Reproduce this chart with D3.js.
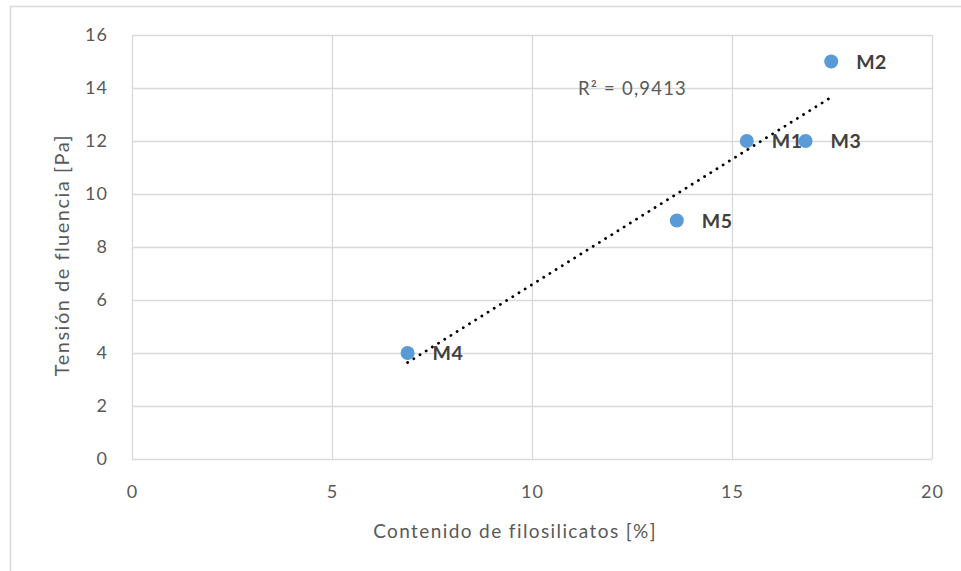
<!DOCTYPE html>
<html>
<head>
<meta charset="utf-8">
<script src="https://cdn.jsdelivr.net/npm/d3@7"></script>
<style>
  html, body { margin: 0; padding: 0; background: #fff; }
  svg { display: block; }
  text { font-family: Lato, "Open Sans", sans-serif; }
</style>
</head>
<body>
<svg id="chart" width="961" height="571"></svg>
<script>
// Muestras: contenido de filosilicatos [%] vs tensión de fluencia [Pa]
const sampleNames = ["M1", "M2", "M3", "M4", "M5"];
const filosilicatos = [15.37, 17.48, 16.84, 6.89, 13.62];
const tensionFluencia = [12, 15, 12, 4, 9];
const xTicks = [0, 5, 10, 15, 20];
const yTicks = [0, 2, 4, 6, 8, 10, 12, 14, 16];
const r2Label = "R² = 0,9413";

const svg = d3.select("#chart");
const W = 961, H = 571;
const plot = { left: 132, right: 932, top: 35, bottom: 459 };

// Outer chart frame
svg.append("rect")
  .attr("x", 10.5).attr("y", 6.5)
  .attr("width", W + 20).attr("height", H + 20)
  .attr("fill", "#fff").attr("stroke", "#d9d9d9").attr("stroke-width", 1.5);

const x = d3.scaleLinear().domain([0, 20]).range([plot.left, plot.right]);
const y = d3.scaleLinear().domain([0, 16]).range([plot.bottom, plot.top]);

// Gridlines
const grid = svg.append("g");
grid.selectAll("line.h").data(yTicks).join("line")
  .attr("x1", plot.left).attr("x2", plot.right)
  .attr("y1", d => Math.round(y(d)) + 0.5).attr("y2", d => Math.round(y(d)) + 0.5)
  .attr("stroke", "#d9d9d9").attr("stroke-width", 1.3);
grid.selectAll("line.v").data(xTicks).join("line")
  .attr("y1", plot.top).attr("y2", plot.bottom)
  .attr("x1", d => Math.round(x(d)) + 0.5).attr("x2", d => Math.round(x(d)) + 0.5)
  .attr("stroke", "#d9d9d9").attr("stroke-width", 1.3);

// Axes (labels only, Excel style)
const yAxis = svg.append("g")
  .attr("transform", `translate(${plot.left},0)`)
  .call(d3.axisLeft(y).tickValues(yTicks).tickSize(0).tickPadding(24).tickFormat(d3.format("d")));
const xAxis = svg.append("g")
  .attr("transform", `translate(0,${plot.bottom})`)
  .call(d3.axisBottom(x).tickValues(xTicks).tickSize(0).tickPadding(26).tickFormat(d3.format("d")));
[yAxis, xAxis].forEach(a => {
  a.select(".domain").remove();
  a.selectAll("text").attr("fill", "#595959").style("font-size", "18px")
    .style("letter-spacing", "1px")
    .style("font-family", "Lato, 'Open Sans', sans-serif");
});

// Axis titles
svg.append("text")
  .attr("x", (plot.left + plot.right) / 2 - 17).attr("y", 538)
  .attr("text-anchor", "middle").attr("fill", "#595959")
  .style("font-size", "19px").style("letter-spacing", "1.4px")
  .text("Contenido de filosilicatos [%]");
svg.append("text")
  .attr("transform", `translate(69,${(plot.top + plot.bottom) / 2 + 8}) rotate(-90)`)
  .attr("text-anchor", "middle").attr("fill", "#595959")
  .style("font-size", "20px").style("letter-spacing", "1.5px")
  .text("Tensión de fluencia [Pa]");

// Linear trend line (least squares) over the data range
const n = filosilicatos.length;
const mx = d3.mean(filosilicatos), my = d3.mean(tensionFluencia);
let sxy = 0, sxx = 0;
for (let i = 0; i < n; i++) {
  sxy += (filosilicatos[i] - mx) * (tensionFluencia[i] - my);
  sxx += (filosilicatos[i] - mx) ** 2;
}
const slope = sxy / sxx, intercept = my - slope * mx;
const [xmin, xmax] = d3.extent(filosilicatos);
svg.append("line")
  .attr("x1", x(xmin)).attr("y1", y(intercept + slope * xmin))
  .attr("x2", x(xmax)).attr("y2", y(intercept + slope * xmax))
  .attr("stroke", "#000").attr("stroke-width", 2.8)
  .attr("stroke-linecap", "round").attr("stroke-dasharray", "0.1 7.2");

svg.append("text")
  .attr("x", 578).attr("y", 95)
  .attr("fill", "#595959").style("font-size", "18.5px").style("letter-spacing", "1.2px")
  .text(r2Label);

// Points
const pts = sampleNames.map((name, i) => ({ name, fx: filosilicatos[i], ty: tensionFluencia[i] }));
svg.append("g").selectAll("circle").data(pts).join("circle")
  .attr("cx", d => x(d.fx)).attr("cy", d => y(d.ty)).attr("r", 7)
  .attr("fill", "#5b9bd5");

// Point labels
svg.append("g").selectAll("text").data(pts).join("text")
  .attr("x", d => x(d.fx) + 25).attr("y", d => y(d.ty) + 7)
  .attr("fill", "#404040").style("font-size", "19.5px").style("font-weight", "bold")
  .style("letter-spacing", "0.5px")
  .text(d => d.name);
</script>
</body>
</html>
